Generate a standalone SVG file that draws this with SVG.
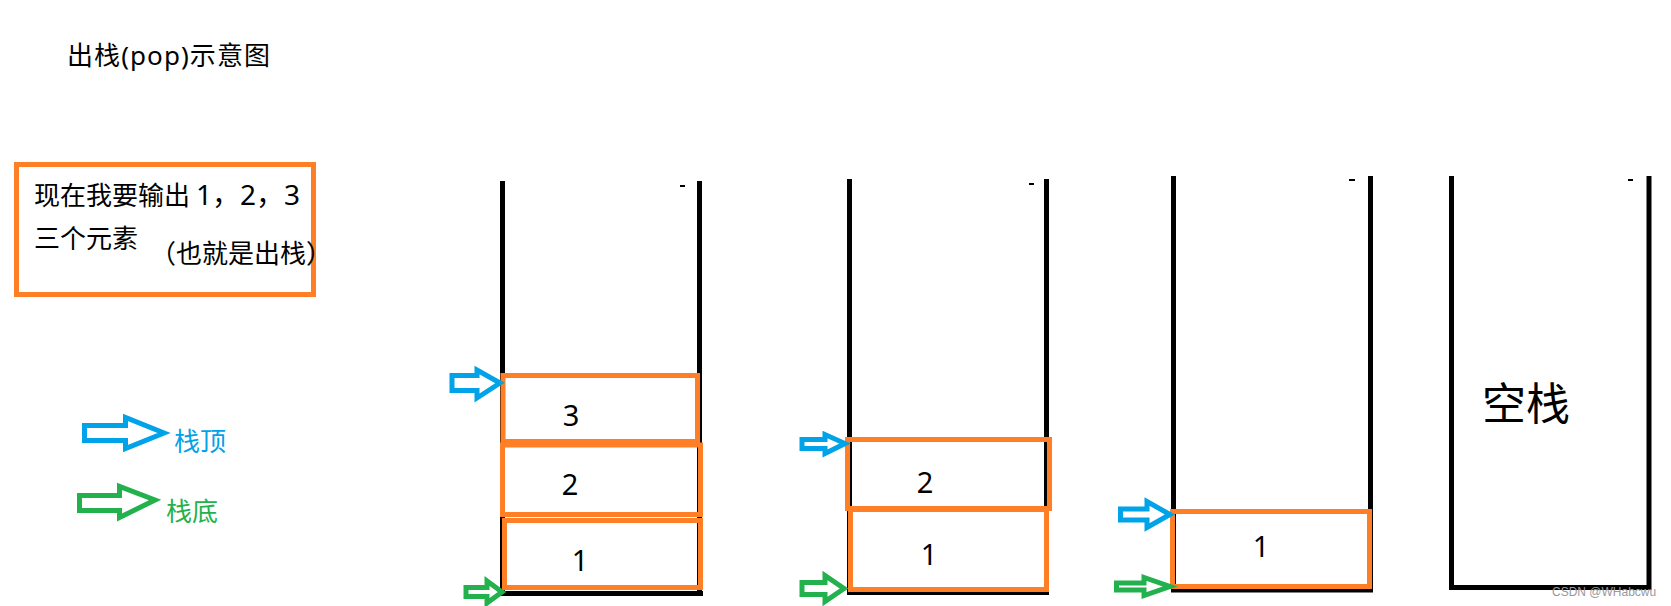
<svg xmlns="http://www.w3.org/2000/svg" width="1671" height="606" viewBox="0 0 1671 606">
<style>
  .t { font-family: "Noto Sans", "Noto Sans CJK SC", sans-serif; fill: #000; }
  .cjk { font-family: "Noto Sans CJK SC", sans-serif; }
  .num { font-family: "Noto Sans", "Noto Sans CJK SC", sans-serif; font-size: 29px; fill: #000; text-anchor: middle; }
  .wall { stroke: #000; stroke-width: 5; fill: none; }
  .box { stroke: #FF7F27; stroke-width: 5; fill: none; }
  .top { stroke: #00A2E8; stroke-width: 5; fill: none; stroke-linejoin: miter; }
  .bot { stroke: #22B14C; stroke-width: 5; fill: none; stroke-linejoin: miter; }
</style>
<rect x="0" y="0" width="1671" height="606" fill="#fff"/>

<g id="title">
  <text class="t" x="67" y="65" font-size="26" textLength="203">出栈(pop)示意图</text>
</g>

<g id="note">
  <rect class="box" x="16.5" y="164.5" width="297" height="130"/>
  <text class="t" x="34" y="205" font-size="26">现在我要输出 <tspan x="196" font-size="28">1，2，3</tspan></text>
  <text class="t" x="34" y="248" font-size="26">三个元素</text>
  <text class="t" x="150" y="263" font-size="26">（也就是出栈）</text>
</g>

<g id="legend">
  <path class="top" d="M84.5 425.5 H125.5 V417.5 L164 433 L125.5 448.5 V440.5 H84.5 Z"/>
  <text class="t cjk" x="174" y="451" font-size="26" style="fill:#00A2E8">栈顶</text>
  <path class="bot" d="M79.5 495.5 H119.5 V486.5 L155 500 L119.5 517.5 V510.5 H79.5 Z"/>
  <text class="t cjk" x="166" y="521" font-size="26" style="fill:#22B14C">栈底</text>
</g>

<g id="stack1">
  <path class="wall" d="M502.5 181 V596 M699.5 181 V596 M500 593.5 H703"/>
  <rect x="680" y="185" width="5" height="2" fill="#000"/>
  <rect class="box" x="503" y="375.5" width="194.5" height="66"/>
  <rect class="box" x="502.5" y="445" width="198" height="69.5"/>
  <rect class="box" x="504.5" y="520.5" width="196" height="67"/>
  <text class="num" x="571" y="426">3</text>
  <text class="num" x="570" y="495">2</text>
  <text class="num" x="580" y="571">1</text>
</g>

<g id="stack2">
  <path class="wall" d="M849.5 179 V595 M1046.5 179 V595 M847 592.5 H1049"/>
  <rect x="1029" y="183" width="5" height="2" fill="#000"/>
  <rect class="box" x="847.5" y="439.5" width="202" height="69"/>
  <rect class="box" x="850.5" y="509.5" width="196" height="80"/>
  <text class="num" x="925" y="493">2</text>
  <text class="num" x="929" y="565">1</text>
</g>

<g id="stack3">
  <path class="wall" d="M1173.5 176 V592 M1370.5 176 V592 M1171 590 H1373"/>
  <rect x="1349" y="179" width="6" height="2" fill="#000"/>
  <rect class="box" x="1172.5" y="511.5" width="197" height="75"/>
  <text class="num" x="1261" y="557">1</text>
</g>

<g id="stack4">
  <path class="wall" d="M1451.5 176 V590 M1649 176 V590 M1449 587.5 H1651"/>
  <rect x="1628" y="179" width="5" height="2" fill="#000"/>
  <text class="t" x="1482" y="420" font-size="44">空栈</text>
</g>

<g id="connectors">
  <path class="top" d="M452 375.5 H477 V370 L500 383 L477 398 V390.5 H452 Z"/>
  <path class="bot" d="M466 587.5 H487 V581 L502 592 L487 603 V596.5 H466 Z"/>
  <path class="top" d="M802 439.5 H825 V434.5 L845 443.5 L825 453.5 V448.5 H802 Z"/>
  <path class="bot" d="M802 582.5 H825 V575.5 L844 588.5 L825 601.5 V594.5 H802 Z"/>
  <path class="top" d="M1120.5 509 H1147 V501.5 L1170 514.5 L1147 527.5 V520 H1120.5 Z"/>
  <path class="bot" d="M1116.5 583 H1144 V577.5 L1170 586.5 L1144 595.5 V590 H1116.5 Z"/>
</g>

<g id="watermark">
  <text x="1552" y="596" font-family="Liberation Sans, Arial, sans-serif" font-size="12" fill="#999">CSDN @WHabcwu</text>
</g>
</svg>
